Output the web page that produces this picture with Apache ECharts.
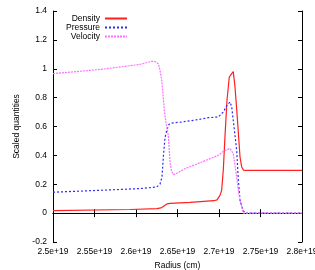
<!DOCTYPE html>
<html><head><meta charset="utf-8">
<script src="https://cdn.jsdelivr.net/npm/echarts@6/dist/echarts.min.js"></script>
<style>html,body{margin:0;padding:0;background:#fff}#c{width:315px;height:270px}</style>
</head><body><div id="c"></div>
<script>
// Radius in units of 1e19 cm
const densityX = [2.5, 2.5928, 2.6253, 2.6301, 2.6337, 2.6373, 2.6410, 2.6651, 2.6940, 2.6976, 2.7012, 2.7032, 2.7052, 2.7072, 2.7096, 2.7124, 2.7153, 2.7172, 2.7193, 2.7220, 2.7253, 2.7273, 2.7295, 2.7325, 2.8];
const densityY = [0.017, 0.025, 0.031, 0.036, 0.050, 0.064, 0.067, 0.075, 0.086, 0.092, 0.123, 0.158, 0.30, 0.53, 0.78, 0.943, 0.966, 0.98, 0.873, 0.666, 0.39, 0.32, 0.298, 0.296, 0.296];
const pressureX = [2.5, 2.5566, 2.6048, 2.6249, 2.6289, 2.6313, 2.6331, 2.6349, 2.6373, 2.6398, 2.6430, 2.6551, 2.6751, 2.6871, 2.6992, 2.7052, 2.7096, 2.7133, 2.7153, 2.7172, 2.7213, 2.7233, 2.7253, 2.7293, 2.7325, 2.8];
const pressureY = [0.145, 0.158, 0.170, 0.181, 0.20, 0.25, 0.40, 0.52, 0.58, 0.615, 0.624, 0.631, 0.648, 0.661, 0.666, 0.70, 0.746, 0.77, 0.735, 0.643, 0.435, 0.227, 0.089, 0.015, 0.0, 0.0];
const velocityX = [2.5, 2.5566, 2.6048, 2.6189, 2.6229, 2.6269, 2.6289, 2.6310, 2.6329, 2.6341, 2.6370, 2.6389, 2.6410, 2.6428, 2.6449, 2.6506, 2.6590, 2.6671, 2.6791, 2.6912, 2.6992, 2.7052, 2.7133, 2.7172, 2.7213, 2.7235, 2.7253, 2.7293, 2.8];
const velocityY = [0.966, 0.995, 1.03, 1.051, 1.05, 1.035, 0.99, 0.92, 0.80, 0.71, 0.596, 0.54, 0.354, 0.29, 0.267, 0.28, 0.308, 0.326, 0.354, 0.382, 0.40, 0.428, 0.447, 0.412, 0.25, 0.15, 0.09, 0.0, 0.0];
const xTickLabels = ['2.5e+19', '2.55e+19', '2.6e+19', '2.65e+19', '2.7e+19', '2.75e+19', '2.8e+19'];
const seriesNames = ['Density', 'Pressure', 'Velocity'];

const FONT = 'Liberation Sans';
const FS = 8.5;
const pairs = (xs, ys) => xs.map((x, i) => [x, ys[i]]);
const xLabel = v => { const i = Math.round((v - 2.5) / 0.05); return xTickLabels[i] || ''; };

const axisCommon = {
  axisLine: { show: true, lineStyle: { color: '#000', width: 1 } },
  axisTick: { show: true, inside: true, length: 4, lineStyle: { color: '#000' } },
  splitLine: { show: false }
};

const chart = echarts.init(document.getElementById('c'), null, { renderer: 'canvas' });
chart.setOption({
  animation: false,
  backgroundColor: '#fff',
  grid: { left: 53, right: 13, top: 11, bottom: 28, containLabel: false, outerBoundsMode: 'none' },
  legend: {
    data: seriesNames,
    orient: 'vertical',
    align: 'right',
    right: 187,
    top: 14,
    padding: 0,
    itemGap: 0,
    itemWidth: 22,
    itemHeight: 8,
    itemStyle: { color: 'rgba(0,0,0,0)', borderWidth: 0, opacity: 0 },
    textStyle: { fontFamily: FONT, fontSize: FS, color: '#000', lineHeight: 8.2 }
  },
  xAxis: [
    Object.assign({
      type: 'value', min: 2.5, max: 2.8, interval: 0.05, position: 'bottom',
      name: 'Radius (cm)', nameLocation: 'middle', nameGap: 15,
      nameTextStyle: { fontFamily: FONT, fontSize: FS, color: '#000' },
      axisLabel: { formatter: xLabel, fontFamily: FONT, fontSize: FS, color: '#000', margin: 5 }
    }, axisCommon),
    Object.assign({
      type: 'value', min: 2.5, max: 2.8, interval: 0.05, position: 'top',
      axisLabel: { show: false }
    }, axisCommon)
  ],
  yAxis: [
    Object.assign({
      type: 'value', min: -0.2, max: 1.4, interval: 0.2, position: 'left',
      name: 'Scaled quantities', nameLocation: 'middle', nameGap: 31, nameRotate: 90,
      nameTextStyle: { fontFamily: FONT, fontSize: FS, color: '#000' },
      axisLabel: { fontFamily: FONT, fontSize: FS, color: '#000', margin: 6 }
    }, axisCommon),
    Object.assign({
      type: 'value', min: -0.2, max: 1.4, interval: 0.2, position: 'right',
      axisLabel: { show: false }
    }, axisCommon)
  ],
  series: [
    { name: seriesNames[0], type: 'line', data: pairs(densityX, densityY), symbol: 'none', showSymbol: false,
      color: '#ff2020', lineStyle: { color: '#ff2020', width: 1.2, type: 'solid' } },
    { name: seriesNames[1], type: 'line', data: pairs(pressureX, pressureY), symbol: 'none', showSymbol: false,
      color: '#2a2aff', lineStyle: { color: '#2a2aff', width: 1.2, type: [2, 2] } },
    { name: seriesNames[2], type: 'line', data: pairs(velocityX, velocityY), symbol: 'none', showSymbol: false,
      color: '#ff70ff', lineStyle: { color: '#ff70ff', width: 1.2, type: [2, 1] } }
  ]
});
</script></body></html>
